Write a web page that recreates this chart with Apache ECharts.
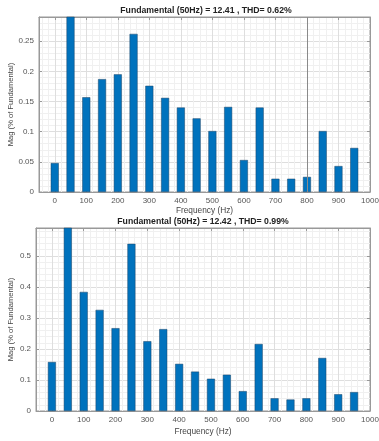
<!DOCTYPE html>
<html>
<head>
<meta charset="utf-8">
<script src="https://cdn.jsdelivr.net/npm/echarts@6/dist/echarts.min.js"></script>
<style>
html, body { margin: 0; padding: 0; background: #fff; }
#main { width: 379px; height: 441px; }
</style>
</head>
<body>
<div id="main"></div>
<script>
// harmonic frequencies (Hz)
const freqs = [0, 50, 100, 150, 200, 250, 300, 350, 400, 450, 500, 550, 600, 650, 700, 750, 800, 850, 900, 950];
// magnitude (% of fundamental)
const magTop = [0.048, 0.30, 0.157, 0.187, 0.195, 0.262, 0.176, 0.156, 0.140, 0.122, 0.101, 0.141, 0.053, 0.140, 0.022, 0.022, 0.025, 0.101, 0.043, 0.073];
const magBottom = [0.158, 0.60, 0.384, 0.326, 0.267, 0.539, 0.225, 0.264, 0.152, 0.127, 0.104, 0.117, 0.064, 0.216, 0.041, 0.037, 0.041, 0.171, 0.054, 0.061];
const titleTop = 'Fundamental (50Hz) = 12.41 , THD= 0.62%';
const titleBottom = 'Fundamental (50Hz) = 12.42 , THD= 0.99%';
const xName = 'Frequency (Hz)';
const yName = 'Mag (% of Fundamental)';

const FONT = '"Liberation Sans", Arial, sans-serif';
const myChart = echarts.init(document.getElementById('main'));

// x axis (frequency), ticks every 100 starting at 0
function freqAxis(gi, gap) {
  return {
    type: 'value', gridIndex: gi, min: -50, max: 1000,
    minInterval: 100, maxInterval: 100,
    name: xName, nameLocation: 'middle', nameGap: gap,
    nameTextStyle: { color: '#444', fontSize: 8.3, fontFamily: FONT },
    axisLine: { show: true, onZero: false, lineStyle: { color: '#999', width: 1 } },
    axisTick: { show: true, inside: true, length: 3, lineStyle: { color: '#999' } },
    axisLabel: {
      color: '#555', fontSize: 8, fontFamily: FONT, margin: 5,
      formatter: v => (v < 0 ? '' : String(v))
    },
    splitLine: { show: true, lineStyle: { color: '#dedede', width: 1 } },
    minorTick: { show: false, splitNumber: 5 },
    minorSplitLine: { show: true, lineStyle: { color: '#f0f0f0', width: 1 } }
  };
}
// mirrored ticks on the top / right edge of the box
function topAxis(gi) {
  return {
    type: 'value', gridIndex: gi, position: 'top', min: -50, max: 1000,
    minInterval: 100, maxInterval: 100,
    axisLine: { show: true, onZero: false, lineStyle: { color: '#999' } },
    axisTick: { show: true, inside: true, length: 3, lineStyle: { color: '#999' } },
    axisLabel: { show: false }, splitLine: { show: false }
  };
}
function magAxis(gi, max, step, gap) {
  return {
    type: 'value', gridIndex: gi, min: 0, max: max, interval: step,
    name: yName, nameLocation: 'middle', nameGap: gap, nameMoveOverlap: false,
    nameTextStyle: { color: '#444', fontSize: 7.6, fontFamily: FONT },
    axisLine: { show: true, onZero: false, lineStyle: { color: '#999' } },
    axisTick: { show: true, inside: true, length: 3, lineStyle: { color: '#999' } },
    axisLabel: { color: '#555', fontSize: 8, fontFamily: FONT, margin: 5, showMaxLabel: false },
    splitLine: { show: true, lineStyle: { color: '#dedede', width: 1 } },
    minorTick: { show: false, splitNumber: 5 },
    minorSplitLine: { show: true, lineStyle: { color: '#f0f0f0', width: 1 } }
  };
}
function rightAxis(gi, max, step) {
  return {
    type: 'value', gridIndex: gi, position: 'right', min: 0, max: max, interval: step,
    axisLine: { show: true, onZero: false, lineStyle: { color: '#999' } },
    axisTick: { show: true, inside: true, length: 3, lineStyle: { color: '#999' } },
    axisLabel: { show: false }, splitLine: { show: false }
  };
}
function bars(xi, yi, vals) {
  return {
    type: 'bar', xAxisIndex: xi, yAxisIndex: yi, barWidth: 8, clip: true,
    itemStyle: { color: '#0072BD', borderColor: '#1d4466', borderWidth: 0.5 },
    data: freqs.map((f, i) => [f, vals[i]])
  };
}

const topSeries = bars(0, 0, magTop);
topSeries.markLine = {
  silent: true, symbol: 'none', label: { show: false },
  lineStyle: { color: '#8a8a8a', width: 1, type: 'solid' },
  data: [{ xAxis: 800 }]
};

myChart.setOption({
  animation: false,
  backgroundColor: '#fff',
  title: [
    { text: titleTop, left: 206, top: 6, padding: 0, textAlign: 'center',
      textStyle: { fontSize: 8.7, fontWeight: 'bold', color: '#222', fontFamily: FONT } },
    { text: titleBottom, left: 203, top: 217, padding: 0, textAlign: 'center',
      textStyle: { fontSize: 8.7, fontWeight: 'bold', color: '#222', fontFamily: FONT } }
  ],
  grid: [
    { left: 39, right: 9, top: 17, height: 175, outerBoundsMode: 'none', containLabel: false,
      show: true, backgroundColor: '#fff', borderColor: '#999', borderWidth: 1 },
    { left: 36, right: 9, top: 228, height: 183, outerBoundsMode: 'none', containLabel: false,
      show: true, backgroundColor: '#fff', borderColor: '#999', borderWidth: 1 }
  ],
  xAxis: [freqAxis(0, 15), freqAxis(1, 17), topAxis(0), topAxis(1)],
  yAxis: [magAxis(0, 0.29, 0.05, 24), magAxis(1, 0.59, 0.1, 21), rightAxis(0, 0.29, 0.05), rightAxis(1, 0.59, 0.1)],
  series: [topSeries, bars(1, 1, magBottom)]
});
</script>
</body>
</html>
